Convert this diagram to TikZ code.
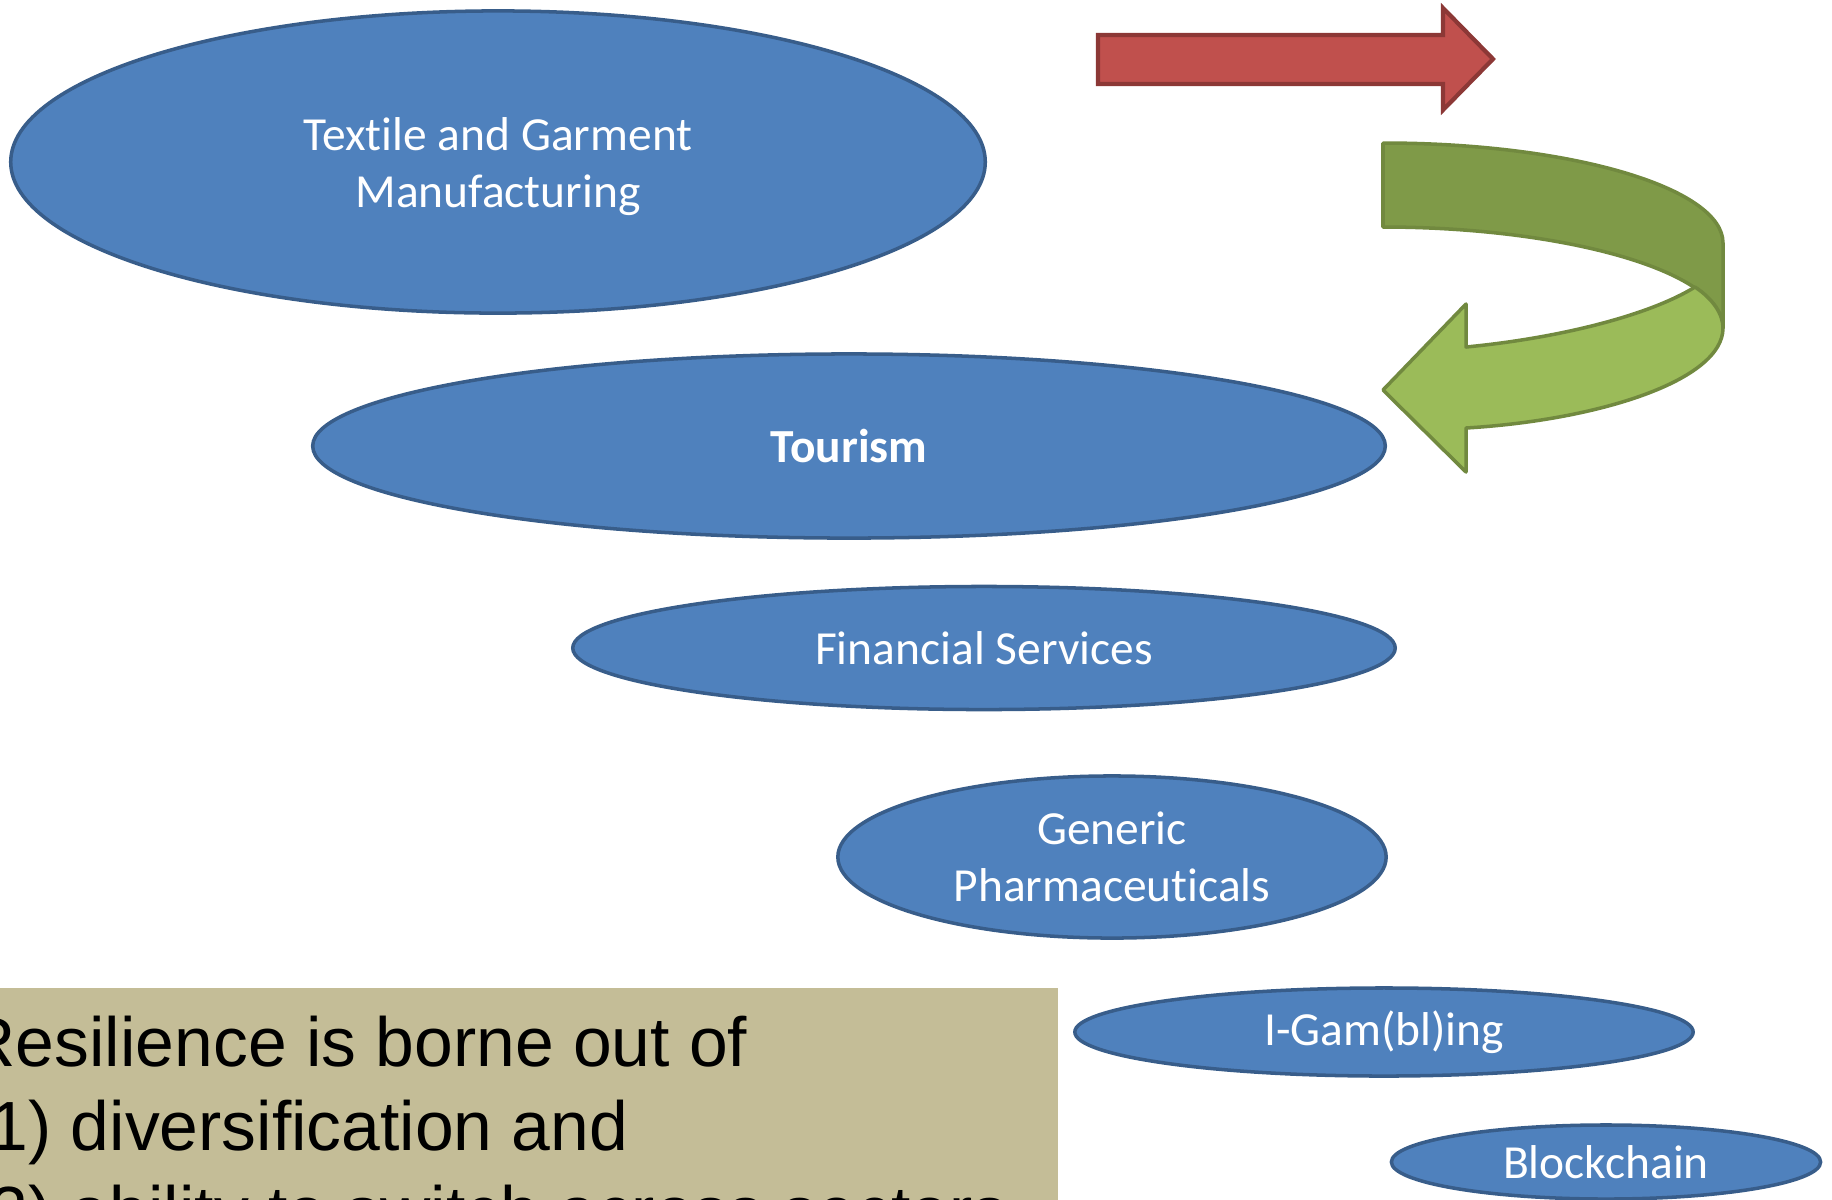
\documentclass[tikz,border=0pt]{standalone}
\usepackage{fontspec}
\setmainfont{Carlito}[Ligatures=CommonOff]
\newfontfamily\notefont{Liberation Sans}
\usetikzlibrary{shapes.geometric}
\definecolor{secfill}{HTML}{4F81BD}
\definecolor{secline}{HTML}{385D8A}
\definecolor{redfill}{HTML}{C0504D}
\definecolor{redline}{HTML}{8C3836}
\definecolor{greendark}{HTML}{7F9A48}
\definecolor{greenlight}{HTML}{9BBB59}
\definecolor{greenline}{HTML}{71893F}
\definecolor{notefill}{HTML}{C4BD97}
\tikzset{sector/.style={ellipse, draw=secline, fill=secfill, line width=1pt, text=white,
  align=center, inner sep=0pt, font=\fontsize{13.5}{16.2}\selectfont}}

\begin{document}
\begin{tikzpicture}[x=0.01cm, y=-0.01cm]
\useasboundingbox (0,0) rectangle (1832,1199);
\clip (0,0) rectangle (1832,1199);
% note box
\fill[notefill] (0,988) rectangle (1058,1210);
\node[anchor=base west, align=left, inner sep=0pt, font=\notefont\fontsize{19.8}{23.9}\selectfont] (note) at (-11,1235)
  {\hspace*{-0.24cm}Resilience is borne out of\\1) diversification and\\2) ability to switch across sectors};
% arrows
\draw[redline, fill=redfill, line width=1.2pt] (1098,35) -- (1443,35) -- (1443,8) -- (1493,59)
  -- (1443,110) -- (1443,84) -- (1098,84) -- cycle;
\draw[greenline, fill=greendark, line width=1pt, line join=round] (1383,143)
  .. controls (1571,143) and (1723,188) .. (1723,243) -- (1723,328)
  .. controls (1723,270) and (1560,227) .. (1383,227) -- cycle;
\draw[greenline, fill=greenlight, line width=1pt, line join=round] (1695,287)
  .. controls (1713,299) and (1723,314) .. (1723,328)
  .. controls (1723,380) and (1600,420) .. (1466,428) -- (1466,472) -- (1383,390)
  -- (1466,304) -- (1466,347) .. controls (1560,338) and (1650,315) .. (1695,287) -- cycle;
% sectors
\node[sector, minimum width=9.74cm, minimum height=3.02cm] (textile) at (498,162) {\rule{0pt}{11.8pt}Textile and Garment\\Manufacturing};
\node[sector, minimum width=10.72cm, minimum height=1.84cm] (tourism) at (849,446) {\bfseries Tourism};
\node[sector, minimum width=8.22cm, minimum height=1.23cm] (finance) at (984,648) {Financial Services};
\node[sector, minimum width=5.48cm, minimum height=1.62cm] (pharma) at (1112,857) {Generic\\Pharmaceuticals};
\node[sector, minimum width=6.18cm, minimum height=0.88cm] (igaming) at (1384,1032) {I-Gam(bl)ing};
\node[sector, minimum width=4.29cm, minimum height=0.74cm] (chain) at (1606,1162) {Blockchain};
\end{tikzpicture}
\end{document}
